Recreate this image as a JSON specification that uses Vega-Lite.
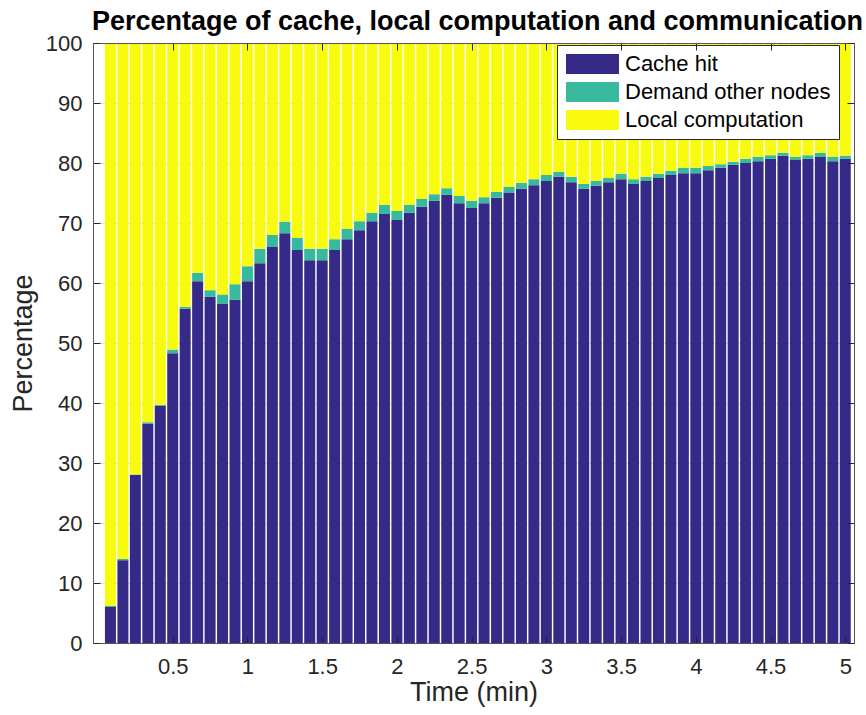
{
  "$schema": "https://vega.github.io/schema/vega-lite/v6.json",
  "width": 761,
  "height": 600,
  "autosize": {"type": "none"},
  "padding": {"left": 93, "top": 43, "right": 12, "bottom": 72},
  "background": "white",
  "title": {"text": "Percentage of cache, local computation and communication", "fontSize": 27, "fontWeight": "bold", "font": "Liberation Sans", "color": "black", "anchor": "middle", "offset": -4, "dx": 4},
  "data": {"values": [
    {"t": 0.0833, "Cache hit": 6.0, "Demand other nodes": 0.2, "Local computation": 93.8},
    {"t": 0.1667, "Cache hit": 13.8, "Demand other nodes": 0.2, "Local computation": 86.0},
    {"t": 0.25, "Cache hit": 28.0, "Demand other nodes": 0.1, "Local computation": 71.9},
    {"t": 0.3333, "Cache hit": 36.6, "Demand other nodes": 0.2, "Local computation": 63.2},
    {"t": 0.4167, "Cache hit": 39.6, "Demand other nodes": 0.1, "Local computation": 60.3},
    {"t": 0.5, "Cache hit": 48.3, "Demand other nodes": 0.6, "Local computation": 51.1},
    {"t": 0.5833, "Cache hit": 55.7, "Demand other nodes": 0.3, "Local computation": 44.0},
    {"t": 0.6667, "Cache hit": 60.3, "Demand other nodes": 1.4, "Local computation": 38.3},
    {"t": 0.75, "Cache hit": 57.7, "Demand other nodes": 1.1, "Local computation": 41.2},
    {"t": 0.8333, "Cache hit": 56.5, "Demand other nodes": 1.6, "Local computation": 41.9},
    {"t": 0.9167, "Cache hit": 57.2, "Demand other nodes": 2.6, "Local computation": 40.2},
    {"t": 1.0, "Cache hit": 60.3, "Demand other nodes": 2.5, "Local computation": 37.2},
    {"t": 1.0833, "Cache hit": 63.3, "Demand other nodes": 2.4, "Local computation": 34.3},
    {"t": 1.1667, "Cache hit": 66.0, "Demand other nodes": 2.0, "Local computation": 32.0},
    {"t": 1.25, "Cache hit": 68.3, "Demand other nodes": 1.9, "Local computation": 29.8},
    {"t": 1.3333, "Cache hit": 65.5, "Demand other nodes": 2.0, "Local computation": 32.5},
    {"t": 1.4167, "Cache hit": 63.8, "Demand other nodes": 1.9, "Local computation": 34.3},
    {"t": 1.5, "Cache hit": 63.8, "Demand other nodes": 1.9, "Local computation": 34.3},
    {"t": 1.5833, "Cache hit": 65.5, "Demand other nodes": 1.8, "Local computation": 32.7},
    {"t": 1.6667, "Cache hit": 67.3, "Demand other nodes": 1.7, "Local computation": 31.0},
    {"t": 1.75, "Cache hit": 68.8, "Demand other nodes": 1.5, "Local computation": 29.7},
    {"t": 1.8333, "Cache hit": 70.3, "Demand other nodes": 1.4, "Local computation": 28.3},
    {"t": 1.9167, "Cache hit": 71.5, "Demand other nodes": 1.5, "Local computation": 27.0},
    {"t": 2.0, "Cache hit": 70.5, "Demand other nodes": 1.5, "Local computation": 28.0},
    {"t": 2.0833, "Cache hit": 71.7, "Demand other nodes": 1.3, "Local computation": 27.0},
    {"t": 2.1667, "Cache hit": 72.7, "Demand other nodes": 1.3, "Local computation": 26.0},
    {"t": 2.25, "Cache hit": 73.7, "Demand other nodes": 1.1, "Local computation": 25.2},
    {"t": 2.3333, "Cache hit": 74.7, "Demand other nodes": 1.1, "Local computation": 24.2},
    {"t": 2.4167, "Cache hit": 73.3, "Demand other nodes": 1.2, "Local computation": 25.5},
    {"t": 2.5, "Cache hit": 72.5, "Demand other nodes": 1.2, "Local computation": 26.3},
    {"t": 2.5833, "Cache hit": 73.3, "Demand other nodes": 1.0, "Local computation": 25.7},
    {"t": 2.6667, "Cache hit": 74.2, "Demand other nodes": 1.0, "Local computation": 24.8},
    {"t": 2.75, "Cache hit": 75.0, "Demand other nodes": 1.0, "Local computation": 24.0},
    {"t": 2.8333, "Cache hit": 75.7, "Demand other nodes": 1.0, "Local computation": 23.3},
    {"t": 2.9167, "Cache hit": 76.3, "Demand other nodes": 1.0, "Local computation": 22.7},
    {"t": 3.0, "Cache hit": 77.0, "Demand other nodes": 1.0, "Local computation": 22.0},
    {"t": 3.0833, "Cache hit": 77.7, "Demand other nodes": 0.8, "Local computation": 21.5},
    {"t": 3.1667, "Cache hit": 76.8, "Demand other nodes": 0.9, "Local computation": 22.3},
    {"t": 3.25, "Cache hit": 75.7, "Demand other nodes": 0.8, "Local computation": 23.5},
    {"t": 3.3333, "Cache hit": 76.2, "Demand other nodes": 0.8, "Local computation": 23.0},
    {"t": 3.4167, "Cache hit": 76.8, "Demand other nodes": 0.7, "Local computation": 22.5},
    {"t": 3.5, "Cache hit": 77.3, "Demand other nodes": 0.9, "Local computation": 21.8},
    {"t": 3.5833, "Cache hit": 76.5, "Demand other nodes": 0.8, "Local computation": 22.7},
    {"t": 3.6667, "Cache hit": 77.0, "Demand other nodes": 0.7, "Local computation": 22.3},
    {"t": 3.75, "Cache hit": 77.5, "Demand other nodes": 0.7, "Local computation": 21.8},
    {"t": 3.8333, "Cache hit": 78.0, "Demand other nodes": 0.7, "Local computation": 21.3},
    {"t": 3.9167, "Cache hit": 78.3, "Demand other nodes": 0.9, "Local computation": 20.8},
    {"t": 4.0, "Cache hit": 78.3, "Demand other nodes": 0.9, "Local computation": 20.8},
    {"t": 4.0833, "Cache hit": 78.8, "Demand other nodes": 0.7, "Local computation": 20.5},
    {"t": 4.1667, "Cache hit": 79.2, "Demand other nodes": 0.6, "Local computation": 20.2},
    {"t": 4.25, "Cache hit": 79.7, "Demand other nodes": 0.5, "Local computation": 19.8},
    {"t": 4.3333, "Cache hit": 80.0, "Demand other nodes": 0.7, "Local computation": 19.3},
    {"t": 4.4167, "Cache hit": 80.3, "Demand other nodes": 0.7, "Local computation": 19.0},
    {"t": 4.5, "Cache hit": 80.7, "Demand other nodes": 0.6, "Local computation": 18.7},
    {"t": 4.5833, "Cache hit": 81.2, "Demand other nodes": 0.5, "Local computation": 18.3},
    {"t": 4.6667, "Cache hit": 80.5, "Demand other nodes": 0.5, "Local computation": 19.0},
    {"t": 4.75, "Cache hit": 80.7, "Demand other nodes": 0.6, "Local computation": 18.7},
    {"t": 4.8333, "Cache hit": 81.0, "Demand other nodes": 0.7, "Local computation": 18.3},
    {"t": 4.9167, "Cache hit": 80.3, "Demand other nodes": 0.7, "Local computation": 19.0},
    {"t": 5.0, "Cache hit": 80.7, "Demand other nodes": 0.5, "Local computation": 18.8}
  ]},
  "transform": [{"fold": ["Cache hit", "Demand other nodes", "Local computation"], "as": ["Category", "Percent"]}],
  "layer": [
    {
      "mark": {"type": "bar", "size": 11, "clip": true},
      "encoding": {
        "x": {"field": "t", "type": "quantitative", "scale": {"domain": [0, 5.025], "nice": false, "zero": false},
          "axis": {"orient": "bottom", "values": [0.5, 1, 1.5, 2, 2.5, 3, 3.5, 4, 4.5, 5], "format": "~g", "grid": false, "title": "Time (min)", "tickSize": -7, "labelPadding": 20, "zindex": 1}},
        "y": {"field": "Percent", "type": "quantitative", "stack": "zero", "scale": {"domain": [0, 100], "nice": false},
          "axis": {"orient": "left", "values": [0, 10, 20, 30, 40, 50, 60, 70, 80, 90, 100], "grid": true, "labels": false, "ticks": false, "domain": false, "title": null, "zindex": 0}},
        "color": {"field": "Category", "type": "nominal",
          "scale": {"domain": ["Cache hit", "Demand other nodes", "Local computation"], "range": ["#352A87", "#38B99E", "#F9FB0E"]},
          "legend": {"orient": "none", "legendX": 464, "legendY": 2, "title": null, "symbolType": "M-1,-1H4.3V1H-1Z", "symbolSize": 400, "symbolStrokeWidth": 0, "symbolOpacity": 1, "labelFontSize": 22, "labelFont": "Liberation Sans", "labelColor": "black", "labelOffset": 38, "labelLimit": 400, "padding": 8, "rowPadding": 6, "fillColor": "white", "strokeColor": "#262626"}},
        "order": {"field": "Category", "sort": "ascending"}
      }
    },
    {
      "mark": {"type": "bar", "size": 11, "opacity": 0, "clip": true},
      "encoding": {
        "x": {"field": "t", "type": "quantitative", "scale": {"domain": [0, 5.025], "nice": false, "zero": false},
          "axis": {"orient": "top", "values": [0.5, 1, 1.5, 2, 2.5, 3, 3.5, 4, 4.5, 5], "grid": false, "labels": false, "title": null, "tickSize": -7, "zindex": 1}},
        "y": {"field": "Percent", "type": "quantitative", "stack": "zero", "scale": {"domain": [0, 100], "nice": false},
          "axis": {"orient": "left", "values": [0, 10, 20, 30, 40, 50, 60, 70, 80, 90, 100], "grid": false, "title": "Percentage", "tickSize": -7, "labelPadding": 18, "titlePadding": 8, "zindex": 1}}
      }
    },
    {
      "mark": {"type": "bar", "size": 11, "opacity": 0, "clip": true},
      "encoding": {
        "x": {"field": "t", "type": "quantitative", "scale": {"domain": [0, 5.025], "nice": false, "zero": false}, "axis": null},
        "y": {"field": "Percent", "type": "quantitative", "stack": "zero", "scale": {"domain": [0, 100], "nice": false},
          "axis": {"orient": "right", "values": [0, 10, 20, 30, 40, 50, 60, 70, 80, 90, 100], "grid": false, "labels": false, "title": null, "tickSize": -7, "zindex": 1}}
      }
    }
  ],
  "resolve": {"axis": {"x": "independent", "y": "independent"}},
  "config": {
    "view": {"stroke": "#555555", "strokeWidth": 1},
    "axis": {"labelFont": "Liberation Sans", "labelFontSize": 22, "labelColor": "#262626", "titleFont": "Liberation Sans", "titleFontSize": 27, "titleFontWeight": "normal", "titleColor": "#262626", "domainColor": "#555555", "tickColor": "#262626", "gridColor": "#e3e3e3", "gridWidth": 1},
    "axisX": {"titlePadding": 2}
  }
}
